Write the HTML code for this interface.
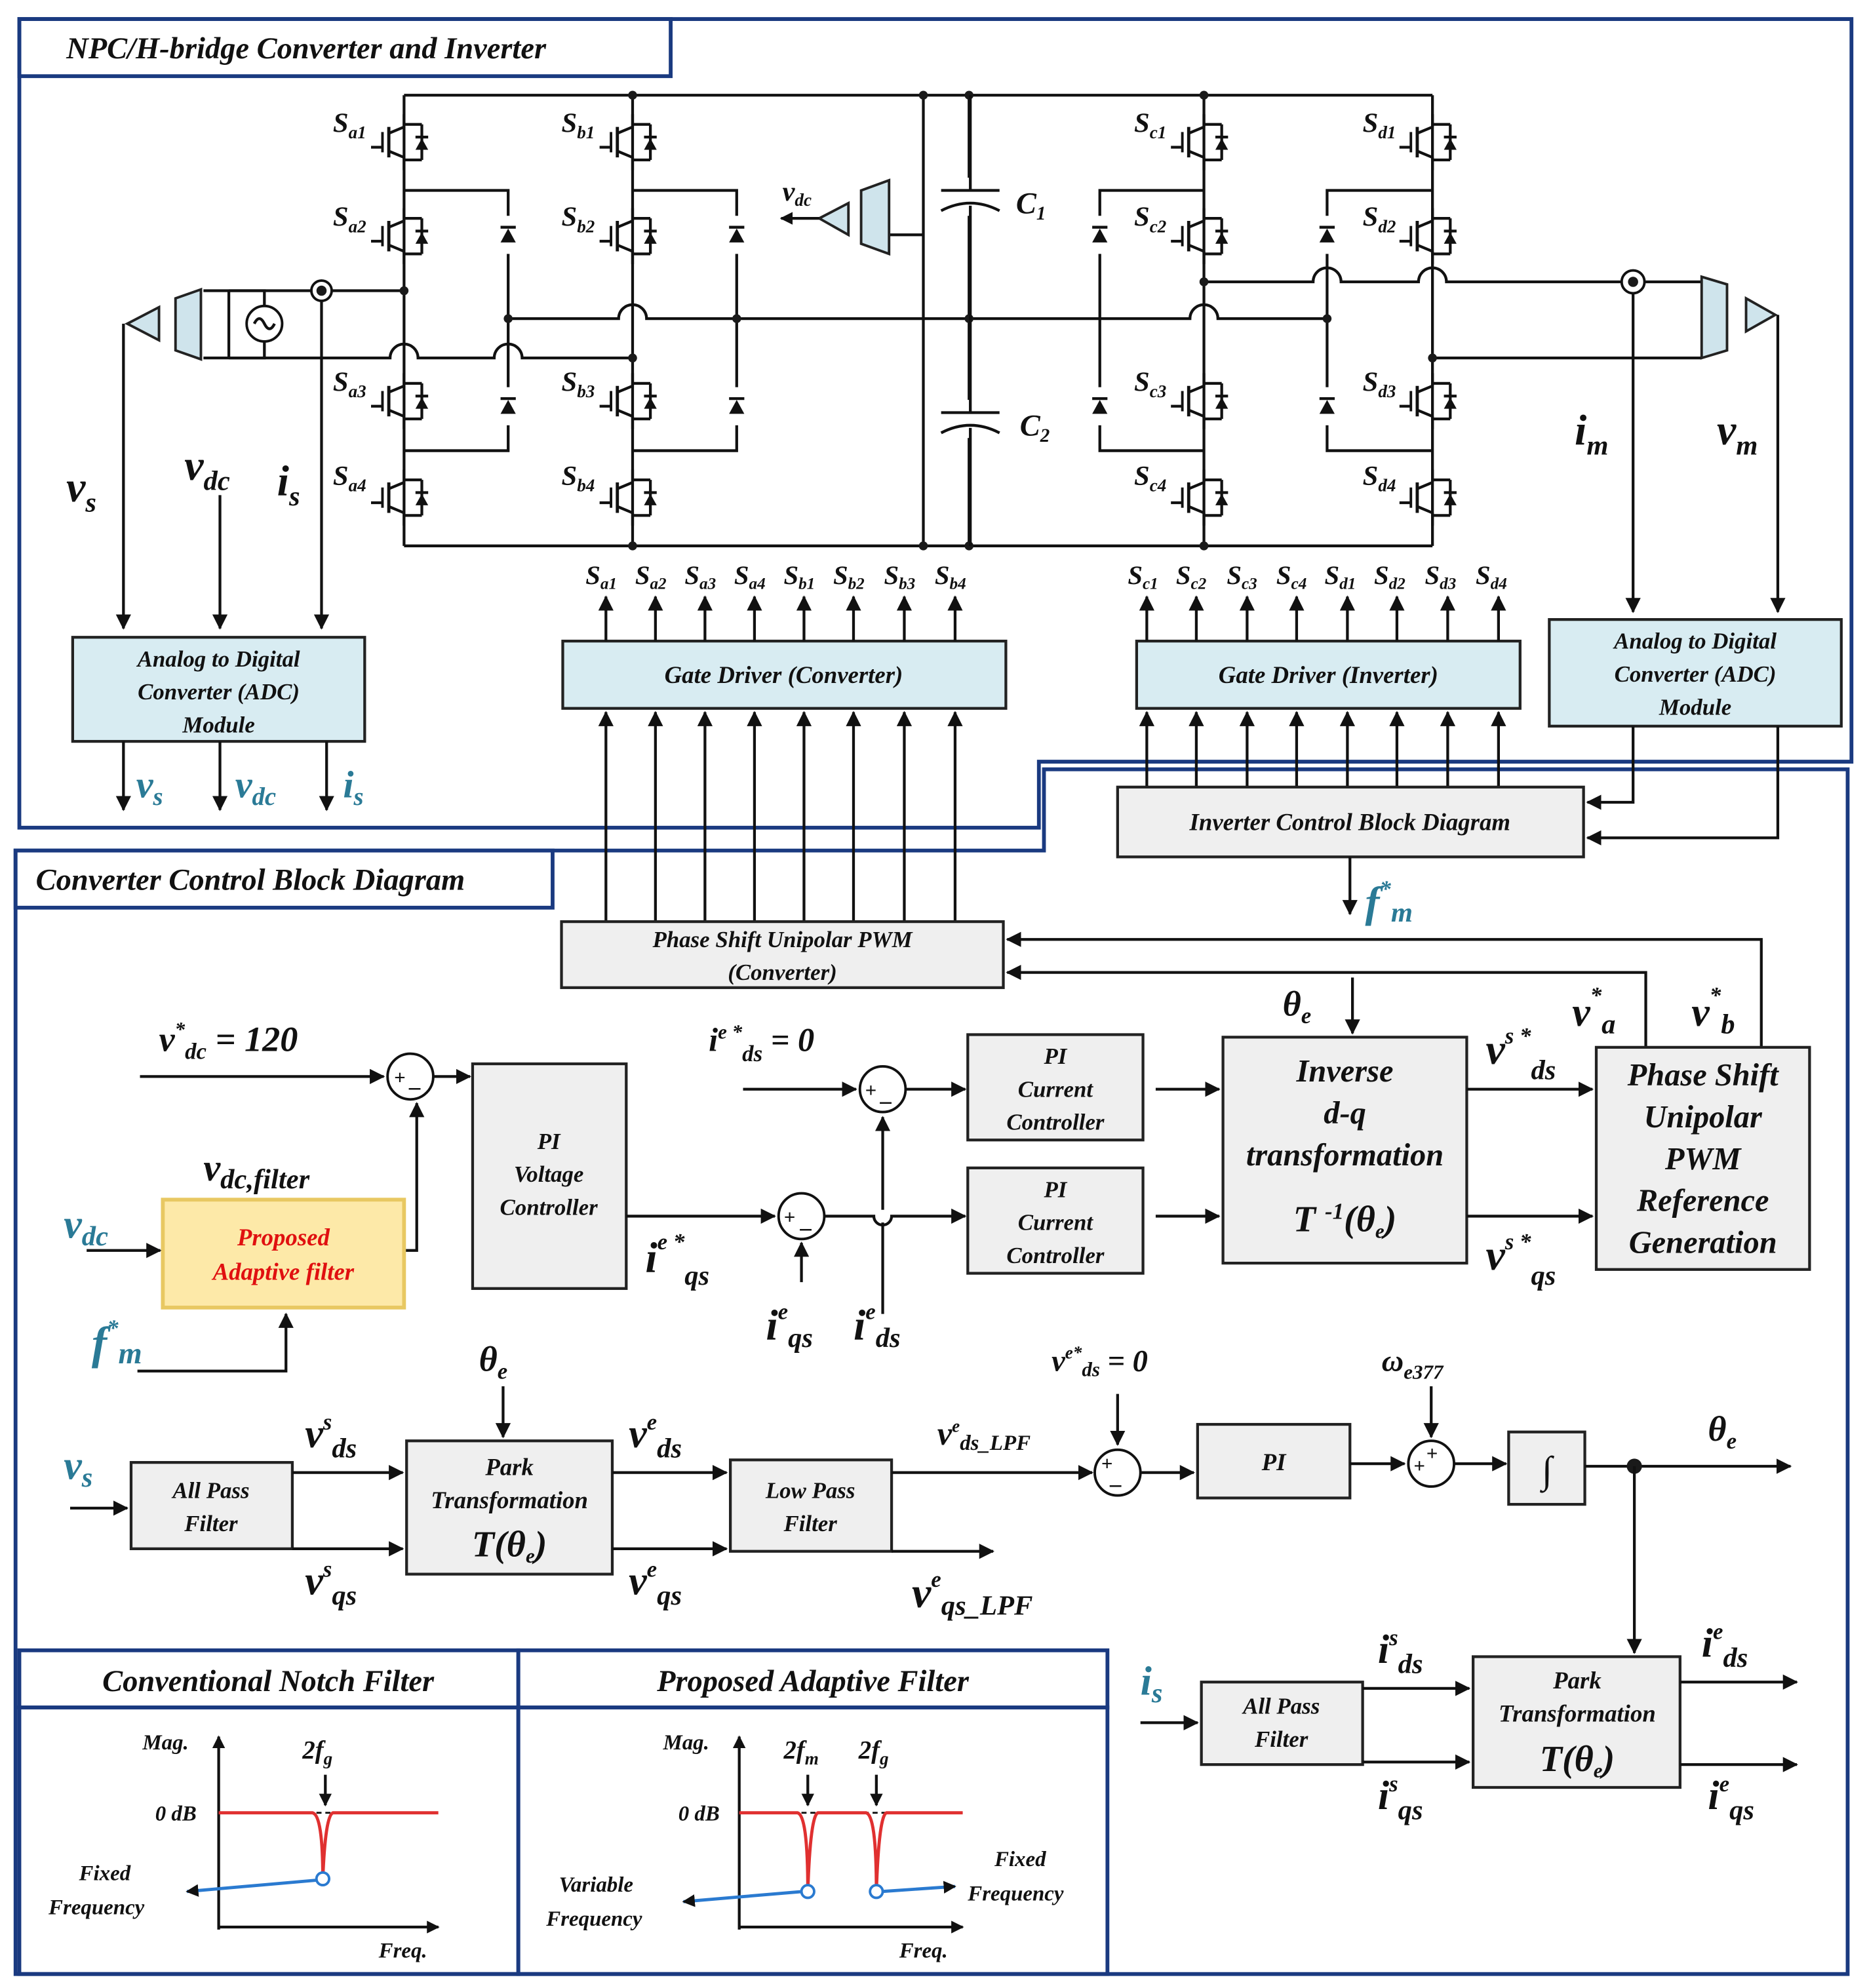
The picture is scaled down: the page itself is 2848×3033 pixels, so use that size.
<!DOCTYPE html>
<html><head><meta charset="utf-8"><style>
html,body{margin:0;padding:0;background:#fff}
svg{display:block}
text{font-family:"Liberation Serif",serif;font-style:italic;font-weight:bold;fill:#111}
.b{fill:#1a1a1a}
.t{fill:#2a7a96}
.ln{stroke:#111;stroke-width:2.2;fill:none}
.fr{stroke:#1a3a80;stroke-width:3;fill:none}
.box{fill:#efefef;stroke:#222;stroke-width:2.2}
.bl{fill:#d8ecf2;stroke:#222;stroke-width:2.2}
</style></head><body>
<svg width="2848" height="3033" viewBox="0 0 1470 1566" xmlns="http://www.w3.org/2000/svg">
<defs>
<marker id="a" markerWidth="10" markerHeight="10" refX="9" refY="5" orient="auto" markerUnits="userSpaceOnUse"><path d="M0,0 L10,5 L0,10 z" fill="#111"/></marker>
<marker id="ab" markerWidth="12" markerHeight="12" refX="11" refY="6" orient="auto" markerUnits="userSpaceOnUse"><path d="M0,0 L12,6 L0,12 z" fill="#111"/></marker>
<g id="sw">
<line x1="0" y1="-22" x2="0" y2="-12" class="ln"/>
<line x1="-12" y1="-12" x2="-12" y2="12" stroke="#111" stroke-width="2.5"/>
<line x1="-12" y1="-7" x2="0" y2="-12" class="ln"/><line x1="-12" y1="7" x2="0" y2="12" class="ln"/>
<line x1="0" y1="12" x2="0" y2="22" class="ln"/>
<line x1="-17" y1="-8" x2="-17" y2="8" stroke="#111" stroke-width="2"/>
<line x1="-17" y1="4" x2="-26" y2="4" class="ln"/>
<line x1="0" y1="-14" x2="14" y2="-14" class="ln"/><line x1="14" y1="-14" x2="14" y2="14" class="ln"/><line x1="0" y1="14" x2="14" y2="14" class="ln"/>
<path d="M9,6 L19,6 L14,-3 z" fill="#111"/><line x1="9" y1="-4" x2="19" y2="-4" class="ln"/>
</g>
<g id="di"><path d="M-6,6 L6,6 L0,-5 z" fill="#111"/><line x1="-6" y1="-6" x2="6" y2="-6" class="ln"/></g>
</defs>

<path class="fr" d="M15,15 H1458 V600 H818 V652 H15 Z"/>
<path class="fr" d="M12,670 H822 V606 H1455 V1555 H12 Z"/>
<rect x="15" y="15" width="513" height="45" fill="#fff" class="fr"/>
<text x="52" y="46" font-size="24" font-weight="normal">NPC/H-bridge Converter and Inverter</text>
<rect x="12" y="670" width="423" height="45" fill="#fff" class="fr"/>
<text x="28" y="701" font-size="24">Converter Control Block Diagram</text>

<line x1="318" y1="75" x2="1128" y2="75" class="ln"/>
<line x1="318" y1="430" x2="1128" y2="430" class="ln"/>
<g class="ln">
<line x1="318" y1="75" x2="318" y2="430"/><line x1="498" y1="75" x2="498" y2="430"/>
<line x1="948" y1="75" x2="948" y2="430"/><line x1="1128" y1="75" x2="1128" y2="430"/>
<line x1="727" y1="75" x2="727" y2="430"/><line x1="763" y1="75" x2="763" y2="430"/>
<path d="M318,150 H400 V355 H318"/><path d="M498,150 H580 V355 H498"/>
<path d="M948,150 H866 V355 H948"/><path d="M1128,150 H1045 V355 H1128"/>
<path d="M400,251 H487 a11,11 0 0 1 22,0 H937 a11,11 0 0 1 22,0 H1045"/>
<path d="M160,229 H318"/><path d="M160,282 H307 a11,11 0 0 1 22,0 H389 a11,11 0 0 1 22,0 H498"/>
<path d="M948,222 H1034 a11,11 0 0 1 22,0 H1117 a11,11 0 0 1 22,0 H1340"/>
<path d="M1128,282 H1340"/>
</g>
<circle cx="318" cy="229" r="3.5" class="b"/><circle cx="498" cy="282" r="3.5" class="b"/>
<circle cx="400" cy="251" r="3.5" class="b"/><circle cx="580" cy="251" r="3.5" class="b"/>
<circle cx="763" cy="251" r="3.5" class="b"/><circle cx="1045" cy="251" r="3.5" class="b"/>
<circle cx="498" cy="75" r="3.5" class="b"/><circle cx="727" cy="75" r="3.5" class="b"/><circle cx="763" cy="75" r="3.5" class="b"/><circle cx="948" cy="75" r="3.5" class="b"/>
<circle cx="498" cy="430" r="3.5" class="b"/><circle cx="727" cy="430" r="3.5" class="b"/><circle cx="763" cy="430" r="3.5" class="b"/><circle cx="948" cy="430" r="3.5" class="b"/>
<circle cx="948" cy="222" r="3.5" class="b"/><circle cx="1128" cy="282" r="3.5" class="b"/>
<g>
<use href="#sw" x="318" y="112"/><use href="#sw" x="318" y="186"/><use href="#sw" x="318" y="316"/><use href="#sw" x="318" y="392"/>
<use href="#sw" x="498" y="112"/><use href="#sw" x="498" y="186"/><use href="#sw" x="498" y="316"/><use href="#sw" x="498" y="392"/>
<use href="#sw" x="948" y="112"/><use href="#sw" x="948" y="186"/><use href="#sw" x="948" y="316"/><use href="#sw" x="948" y="392"/>
<use href="#sw" x="1128" y="112"/><use href="#sw" x="1128" y="186"/><use href="#sw" x="1128" y="316"/><use href="#sw" x="1128" y="392"/>
</g>
<rect x="395" y="170" width="10" height="30" fill="#fff"/><use href="#di" x="400" y="185"/>
<rect x="395" y="305" width="10" height="30" fill="#fff"/><use href="#di" x="400" y="320"/>
<rect x="575" y="170" width="10" height="30" fill="#fff"/><use href="#di" x="580" y="185"/>
<rect x="575" y="305" width="10" height="30" fill="#fff"/><use href="#di" x="580" y="320"/>
<rect x="861" y="170" width="10" height="30" fill="#fff"/><use href="#di" x="866" y="185"/>
<rect x="861" y="305" width="10" height="30" fill="#fff"/><use href="#di" x="866" y="320"/>
<rect x="1040" y="170" width="10" height="30" fill="#fff"/><use href="#di" x="1045" y="185"/>
<rect x="1040" y="305" width="10" height="30" fill="#fff"/><use href="#di" x="1045" y="320"/>
<g font-size="22">
<text x="262" y="104">S<tspan font-size="14" dy="5">a1</tspan></text><text x="262" y="178">S<tspan font-size="14" dy="5">a2</tspan></text>
<text x="262" y="308">S<tspan font-size="14" dy="5">a3</tspan></text><text x="262" y="382">S<tspan font-size="14" dy="5">a4</tspan></text>
<text x="442" y="104">S<tspan font-size="14" dy="5">b1</tspan></text><text x="442" y="178">S<tspan font-size="14" dy="5">b2</tspan></text>
<text x="442" y="308">S<tspan font-size="14" dy="5">b3</tspan></text><text x="442" y="382">S<tspan font-size="14" dy="5">b4</tspan></text>
<text x="893" y="104">S<tspan font-size="14" dy="5">c1</tspan></text><text x="893" y="178">S<tspan font-size="14" dy="5">c2</tspan></text>
<text x="893" y="308">S<tspan font-size="14" dy="5">c3</tspan></text><text x="893" y="382">S<tspan font-size="14" dy="5">c4</tspan></text>
<text x="1073" y="104">S<tspan font-size="14" dy="5">d1</tspan></text><text x="1073" y="178">S<tspan font-size="14" dy="5">d2</tspan></text>
<text x="1073" y="308">S<tspan font-size="14" dy="5">d3</tspan></text><text x="1073" y="382">S<tspan font-size="14" dy="5">d4</tspan></text>
</g>
<rect x="735" y="140" width="60" height="30" fill="#fff"/><rect x="735" y="315" width="60" height="30" fill="#fff"/>
<g class="ln"><line x1="741" y1="150" x2="787" y2="150"/><path d="M741,166 Q764,154 787,166"/>
<line x1="741" y1="325" x2="787" y2="325"/><path d="M741,341 Q764,329 787,341"/>
<line x1="764" y1="150" x2="764" y2="75"/><line x1="764" y1="162" x2="764" y2="325"/><line x1="764" y1="337" x2="764" y2="430"/></g>
<text x="800" y="168" font-size="24">C<tspan font-size="15" dy="5">1</tspan></text>
<text x="803" y="343" font-size="24">C<tspan font-size="15" dy="5">2</tspan></text>
<line x1="700" y1="185" x2="727" y2="185" class="ln"/>
<path d="M678,150 L700,142 L700,200 L678,192 Z" fill="#cfe4ec" stroke="#222" stroke-width="2"/>
<path d="M668,160 L668,185 L645,172 Z" fill="#cfe4ec" stroke="#222" stroke-width="2"/>
<line x1="645" y1="172" x2="615" y2="172" class="ln" marker-end="url(#a)"/>
<text x="616" y="158" font-size="22">v<tspan font-size="14" dy="4">dc</tspan></text>
<circle cx="208" cy="255" r="14" fill="#fff" stroke="#111" stroke-width="2"/>
<path d="M200,255 q4,-8 8,0 q4,8 8,0" class="ln"/>
<path d="M180,229 V282 M180,229 H208 V241 M208,269 V282 H180" class="ln"/>
<path d="M138,235 L158,228 L158,283 L138,276 Z" fill="#cfe4ec" stroke="#222" stroke-width="2"/>
<path d="M125,242 L125,268 L100,255 Z" fill="#cfe4ec" stroke="#222" stroke-width="2"/>
<circle cx="253" cy="229" r="8" fill="#fff" stroke="#111" stroke-width="2"/><circle cx="253" cy="229" r="4" class="b"/>
<g class="ln">
<line x1="97" y1="255" x2="97" y2="495" marker-end="url(#ab)"/>
<line x1="173" y1="390" x2="173" y2="495" marker-end="url(#ab)"/>
<line x1="253" y1="237" x2="253" y2="495" marker-end="url(#ab)"/>
</g>
<text x="52" y="395" font-size="34">v<tspan font-size="22" dy="8">s</tspan></text>
<text x="145" y="378" font-size="34">v<tspan font-size="22" dy="8">dc</tspan></text>
<text x="218" y="390" font-size="34">i<tspan font-size="22" dy="8">s</tspan></text>
<rect x="57" y="502" width="230" height="82" class="bl"/>
<text x="172" y="525" font-size="18" text-anchor="middle">Analog to Digital</text>
<text x="172" y="551" font-size="18" text-anchor="middle">Converter (ADC)</text>
<text x="172" y="577" font-size="18" text-anchor="middle">Module</text>
<g class="ln"><line x1="97" y1="584" x2="97" y2="638" marker-end="url(#ab)"/><line x1="173" y1="584" x2="173" y2="638" marker-end="url(#ab)"/><line x1="257" y1="584" x2="257" y2="638" marker-end="url(#ab)"/></g>
<text x="107" y="628" font-size="30" class="t">v<tspan font-size="20" dy="6">s</tspan></text>
<text x="185" y="628" font-size="30" class="t">v<tspan font-size="20" dy="6">dc</tspan></text>
<text x="270" y="628" font-size="30" class="t">i<tspan font-size="20" dy="6">s</tspan></text>
<circle cx="1286" cy="222" r="9" fill="#fff" stroke="#111" stroke-width="2"/><circle cx="1286" cy="222" r="4" class="b"/>
<path d="M1340,218 L1360,224 L1360,276 L1340,282 Z" fill="#cfe4ec" stroke="#222" stroke-width="2"/>
<path d="M1375,235 L1375,261 L1398,248 Z" fill="#cfe4ec" stroke="#222" stroke-width="2"/>
<g class="ln"><line x1="1286" y1="231" x2="1286" y2="482" marker-end="url(#ab)"/><line x1="1400" y1="248" x2="1400" y2="482" marker-end="url(#ab)"/></g>
<text x="1240" y="350" font-size="34">i<tspan font-size="22" dy="8">m</tspan></text>
<text x="1352" y="350" font-size="34">v<tspan font-size="22" dy="8">m</tspan></text>
<rect x="1220" y="488" width="230" height="84" class="bl"/>
<text x="1335" y="511" font-size="18" text-anchor="middle">Analog to Digital</text>
<text x="1335" y="537" font-size="18" text-anchor="middle">Converter (ADC)</text>
<text x="1335" y="563" font-size="18" text-anchor="middle">Module</text>
<g class="ln"><path d="M1286,572 V632 H1250" marker-end="url(#ab)"/><path d="M1400,572 V660 H1250" marker-end="url(#ab)"/></g>
<rect x="443" y="505" width="349" height="53" class="bl"/>
<text x="617" y="538" font-size="19" text-anchor="middle">Gate Driver (Converter)</text>
<rect x="895" y="505" width="302" height="53" class="bl"/>
<text x="1046" y="538" font-size="19" text-anchor="middle">Gate Driver (Inverter)</text>
<g class="ln">
<line x1="477" y1="505" x2="477" y2="470" marker-end="url(#ab)"/><line x1="516" y1="505" x2="516" y2="470" marker-end="url(#ab)"/>
<line x1="555" y1="505" x2="555" y2="470" marker-end="url(#ab)"/><line x1="594" y1="505" x2="594" y2="470" marker-end="url(#ab)"/>
<line x1="633" y1="505" x2="633" y2="470" marker-end="url(#ab)"/><line x1="672" y1="505" x2="672" y2="470" marker-end="url(#ab)"/>
<line x1="712" y1="505" x2="712" y2="470" marker-end="url(#ab)"/><line x1="752" y1="505" x2="752" y2="470" marker-end="url(#ab)"/>
<line x1="903" y1="505" x2="903" y2="470" marker-end="url(#ab)"/><line x1="942" y1="505" x2="942" y2="470" marker-end="url(#ab)"/>
<line x1="982" y1="505" x2="982" y2="470" marker-end="url(#ab)"/><line x1="1021" y1="505" x2="1021" y2="470" marker-end="url(#ab)"/>
<line x1="1061" y1="505" x2="1061" y2="470" marker-end="url(#ab)"/><line x1="1100" y1="505" x2="1100" y2="470" marker-end="url(#ab)"/>
<line x1="1140" y1="505" x2="1140" y2="470" marker-end="url(#ab)"/><line x1="1180" y1="505" x2="1180" y2="470" marker-end="url(#ab)"/>
<line x1="477" y1="726" x2="477" y2="561" marker-end="url(#ab)"/><line x1="516" y1="726" x2="516" y2="561" marker-end="url(#ab)"/>
<line x1="555" y1="726" x2="555" y2="561" marker-end="url(#ab)"/><line x1="594" y1="726" x2="594" y2="561" marker-end="url(#ab)"/>
<line x1="633" y1="726" x2="633" y2="561" marker-end="url(#ab)"/><line x1="672" y1="726" x2="672" y2="561" marker-end="url(#ab)"/>
<line x1="712" y1="726" x2="712" y2="561" marker-end="url(#ab)"/><line x1="752" y1="726" x2="752" y2="561" marker-end="url(#ab)"/>
<line x1="903" y1="620" x2="903" y2="561" marker-end="url(#ab)"/><line x1="942" y1="620" x2="942" y2="561" marker-end="url(#ab)"/>
<line x1="982" y1="620" x2="982" y2="561" marker-end="url(#ab)"/><line x1="1021" y1="620" x2="1021" y2="561" marker-end="url(#ab)"/>
<line x1="1061" y1="620" x2="1061" y2="561" marker-end="url(#ab)"/><line x1="1100" y1="620" x2="1100" y2="561" marker-end="url(#ab)"/>
<line x1="1140" y1="620" x2="1140" y2="561" marker-end="url(#ab)"/><line x1="1180" y1="620" x2="1180" y2="561" marker-end="url(#ab)"/>
</g>
<g font-size="21">
<text x="461" y="460">S<tspan font-size="13" dy="4">a1</tspan></text><text x="500" y="460">S<tspan font-size="13" dy="4">a2</tspan></text>
<text x="539" y="460">S<tspan font-size="13" dy="4">a3</tspan></text><text x="578" y="460">S<tspan font-size="13" dy="4">a4</tspan></text>
<text x="617" y="460">S<tspan font-size="13" dy="4">b1</tspan></text><text x="656" y="460">S<tspan font-size="13" dy="4">b2</tspan></text>
<text x="696" y="460">S<tspan font-size="13" dy="4">b3</tspan></text><text x="736" y="460">S<tspan font-size="13" dy="4">b4</tspan></text>
<text x="888" y="460">S<tspan font-size="13" dy="4">c1</tspan></text><text x="926" y="460">S<tspan font-size="13" dy="4">c2</tspan></text>
<text x="966" y="460">S<tspan font-size="13" dy="4">c3</tspan></text><text x="1005" y="460">S<tspan font-size="13" dy="4">c4</tspan></text>
<text x="1043" y="460">S<tspan font-size="13" dy="4">d1</tspan></text><text x="1082" y="460">S<tspan font-size="13" dy="4">d2</tspan></text>
<text x="1122" y="460">S<tspan font-size="13" dy="4">d3</tspan></text><text x="1162" y="460">S<tspan font-size="13" dy="4">d4</tspan></text>
</g>
<rect x="880" y="620" width="367" height="55" class="box"/>
<text x="1063" y="654" font-size="19" text-anchor="middle">Inverter Control Block Diagram</text>
<line x1="1063" y1="675" x2="1063" y2="720" class="ln" marker-end="url(#ab)"/>
<text x="1075" y="722" font-size="34" class="t">f<tspan font-size="18" dy="-16">*</tspan><tspan font-size="22" dy="20">m</tspan></text>

<rect x="442" y="726" width="348" height="52" class="box"/>
<text x="616" y="746" font-size="18" text-anchor="middle">Phase Shift Unipolar PWM</text>
<text x="616" y="772" font-size="18" text-anchor="middle">(Converter)</text>
<g class="ln"><path d="M1387,825 V740 H793" marker-end="url(#ab)"/><path d="M1296,825 V766 H793" marker-end="url(#ab)"/></g>

<text x="125" y="828" font-size="28">v<tspan font-size="16" dy="-12">*</tspan><tspan font-size="18" dy="18">dc</tspan><tspan dy="-6"> = 120</tspan></text>
<line x1="110" y1="848" x2="302" y2="848" class="ln" marker-end="url(#ab)"/>
<circle cx="323" cy="848" r="18" fill="#fff" stroke="#111" stroke-width="2"/>
<text x="310" y="854" font-size="16">+</text><text x="322" y="862" font-size="18">–</text>
<line x1="341" y1="848" x2="370" y2="848" class="ln" marker-end="url(#ab)"/>
<path d="M318,985 H328 V869" class="ln" marker-end="url(#ab)"/>
<text x="160" y="930" font-size="30">v<tspan font-size="22" dy="6">dc,filter</tspan></text>
<rect x="128" y="945" width="190" height="85" fill="#fde9a8" stroke="#e8c862" stroke-width="3"/>
<text x="223" y="981" font-size="19" text-anchor="middle" style="fill:#e01010">Proposed</text>
<text x="223" y="1008" font-size="19" text-anchor="middle" style="fill:#e01010">Adaptive filter</text>
<text x="50" y="975" font-size="32" class="t">v<tspan font-size="22" dy="6">dc</tspan></text>
<line x1="68" y1="985" x2="126" y2="985" class="ln" marker-end="url(#ab)"/>
<text x="72" y="1070" font-size="36" class="t">f<tspan font-size="18" dy="-18">*</tspan><tspan font-size="24" dy="22">m</tspan></text>
<path d="M108,1080 H225 V1035" class="ln" marker-end="url(#ab)"/>
<rect x="372" y="838" width="121" height="177" class="box"/>
<text x="432" y="905" font-size="18" text-anchor="middle">PI</text>
<text x="432" y="931" font-size="18" text-anchor="middle">Voltage</text>
<text x="432" y="957" font-size="18" text-anchor="middle">Controller</text>
<line x1="493" y1="958" x2="610" y2="958" class="ln" marker-end="url(#ab)"/>
<text x="508" y="1002" font-size="34">i<tspan font-size="18" dy="-18">e *</tspan><tspan font-size="22" dy="28">qs</tspan></text>
<circle cx="631" cy="958" r="18" fill="#fff" stroke="#111" stroke-width="2"/>
<text x="617" y="964" font-size="16">+</text><text x="630" y="973" font-size="18">–</text>
<line x1="631" y1="1010" x2="631" y2="979" class="ln" marker-end="url(#ab)"/>
<text x="603" y="1055" font-size="34">i<tspan font-size="18" dy="-16">e</tspan><tspan font-size="22" dy="22">qs</tspan></text>
<path d="M649,958 H688 a7,7 0 0 0 14,0 H760" class="ln" marker-end="url(#ab)"/>
<path d="M695,1035 V963 M695,953 V880" class="ln" marker-end="url(#ab)"/>
<text x="672" y="1055" font-size="34">i<tspan font-size="18" dy="-16">e</tspan><tspan font-size="22" dy="22">ds</tspan></text>
<text x="558" y="828" font-size="26">i<tspan font-size="16" dy="-10">e *</tspan><tspan font-size="18" dy="18">ds</tspan><tspan dy="-8"> = 0</tspan></text>
<line x1="585" y1="858" x2="674" y2="858" class="ln" marker-end="url(#ab)"/>
<circle cx="695" cy="858" r="18" fill="#fff" stroke="#111" stroke-width="2"/>
<text x="681" y="864" font-size="16">+</text><text x="693" y="873" font-size="18">–</text>
<line x1="713" y1="858" x2="760" y2="858" class="ln" marker-end="url(#ab)"/>
<rect x="762" y="815" width="138" height="83" class="box"/>
<text x="831" y="838" font-size="18" text-anchor="middle">PI</text><text x="831" y="864" font-size="18" text-anchor="middle">Current</text><text x="831" y="890" font-size="18" text-anchor="middle">Controller</text>
<rect x="762" y="920" width="138" height="83" class="box"/>
<text x="831" y="943" font-size="18" text-anchor="middle">PI</text><text x="831" y="969" font-size="18" text-anchor="middle">Current</text><text x="831" y="995" font-size="18" text-anchor="middle">Controller</text>
<line x1="910" y1="858" x2="960" y2="858" class="ln" marker-end="url(#ab)"/>
<line x1="910" y1="958" x2="960" y2="958" class="ln" marker-end="url(#ab)"/>
<rect x="963" y="817" width="192" height="178" class="box"/>
<text x="1059" y="852" font-size="25" text-anchor="middle" font-weight="normal">Inverse</text>
<text x="1059" y="885" font-size="25" text-anchor="middle" font-weight="normal">d-q</text>
<text x="1059" y="918" font-size="25" text-anchor="middle" font-weight="normal">transformation</text>
<text x="1059" y="970" font-size="29" text-anchor="middle" font-weight="normal">T <tspan font-size="18" dy="-10">-1</tspan><tspan dy="10">(θ</tspan><tspan font-size="16" dy="5">e</tspan><tspan dy="-5">)</tspan></text>
<text x="1010" y="800" font-size="28">θ<tspan font-size="18" dy="6">e</tspan></text>
<line x1="1065" y1="770" x2="1065" y2="814" class="ln" marker-end="url(#ab)"/>
<line x1="1155" y1="858" x2="1254" y2="858" class="ln" marker-end="url(#ab)"/>
<line x1="1155" y1="958" x2="1254" y2="958" class="ln" marker-end="url(#ab)"/>
<text x="1170" y="838" font-size="34">v<tspan font-size="18" dy="-16">s *</tspan><tspan font-size="22" dy="28">ds</tspan></text>
<text x="1170" y="1000" font-size="34">v<tspan font-size="18" dy="-16">s *</tspan><tspan font-size="22" dy="28">qs</tspan></text>
<text x="1238" y="808" font-size="32">v<tspan font-size="18" dy="-18">*</tspan><tspan font-size="22" dy="24">a</tspan></text>
<text x="1332" y="808" font-size="32">v<tspan font-size="18" dy="-18">*</tspan><tspan font-size="22" dy="24">b</tspan></text>
<rect x="1257" y="825" width="168" height="175" class="box"/>
<g font-size="25" text-anchor="middle">
<text x="1341" y="855" font-weight="normal">Phase Shift</text><text x="1341" y="888" font-weight="normal">Unipolar</text><text x="1341" y="921" font-weight="normal">PWM</text><text x="1341" y="954" font-weight="normal">Reference</text><text x="1341" y="987" font-weight="normal">Generation</text></g>

<text x="50" y="1165" font-size="32" class="t">v<tspan font-size="22" dy="6">s</tspan></text>
<line x1="55" y1="1188" x2="100" y2="1188" class="ln" marker-end="url(#ab)"/>
<rect x="103" y="1152" width="127" height="68" class="box"/>
<text x="166" y="1180" font-size="18" text-anchor="middle">All Pass</text><text x="166" y="1206" font-size="18" text-anchor="middle">Filter</text>
<line x1="230" y1="1160" x2="317" y2="1160" class="ln" marker-end="url(#ab)"/>
<line x1="230" y1="1220" x2="317" y2="1220" class="ln" marker-end="url(#ab)"/>
<text x="240" y="1140" font-size="32">v<tspan font-size="18" dy="-14">s</tspan><tspan font-size="22" dy="22">ds</tspan></text>
<text x="240" y="1256" font-size="32">v<tspan font-size="18" dy="-14">s</tspan><tspan font-size="22" dy="22">qs</tspan></text>
<text x="377" y="1080" font-size="28">θ<tspan font-size="18" dy="6">e</tspan></text>
<line x1="396" y1="1092" x2="396" y2="1132" class="ln" marker-end="url(#ab)"/>
<rect x="320" y="1135" width="162" height="105" class="box"/>
<text x="401" y="1162" font-size="19" text-anchor="middle">Park</text><text x="401" y="1188" font-size="19" text-anchor="middle">Transformation</text>
<text x="401" y="1226" font-size="29" text-anchor="middle" font-weight="normal">T(θ<tspan font-size="16" dy="5">e</tspan><tspan dy="-5">)</tspan></text>
<line x1="482" y1="1160" x2="572" y2="1160" class="ln" marker-end="url(#ab)"/>
<line x1="482" y1="1220" x2="572" y2="1220" class="ln" marker-end="url(#ab)"/>
<text x="495" y="1140" font-size="32">v<tspan font-size="18" dy="-14">e</tspan><tspan font-size="22" dy="22">ds</tspan></text>
<text x="495" y="1256" font-size="32">v<tspan font-size="18" dy="-14">e</tspan><tspan font-size="22" dy="22">qs</tspan></text>
<rect x="575" y="1150" width="127" height="72" class="box"/>
<text x="638" y="1180" font-size="18" text-anchor="middle">Low Pass</text><text x="638" y="1206" font-size="18" text-anchor="middle">Filter</text>
<line x1="702" y1="1160" x2="860" y2="1160" class="ln" marker-end="url(#ab)"/>
<line x1="702" y1="1222" x2="782" y2="1222" class="ln" marker-end="url(#ab)"/>
<text x="738" y="1138" font-size="26">v<tspan font-size="14" dy="-10">e</tspan><tspan font-size="17" dy="14">ds_LPF</tspan></text>
<text x="718" y="1266" font-size="34">v<tspan font-size="18" dy="-16">e</tspan><tspan font-size="22" dy="22">qs_LPF</tspan></text>
<text x="828" y="1080" font-size="24">v<tspan font-size="14" dy="-10">e*</tspan><tspan font-size="16" dy="14">ds</tspan><tspan dy="-4"> = 0</tspan></text>
<line x1="880" y1="1098" x2="880" y2="1138" class="ln" marker-end="url(#ab)"/>
<circle cx="880" cy="1160" r="18" fill="#fff" stroke="#111" stroke-width="2"/>
<text x="867" y="1158" font-size="16">+</text><text x="874" y="1175" font-size="18">–</text>
<line x1="898" y1="1160" x2="940" y2="1160" class="ln" marker-end="url(#ab)"/>
<rect x="943" y="1122" width="120" height="58" class="box"/>
<text x="1003" y="1158" font-size="19" text-anchor="middle">PI</text>
<line x1="1063" y1="1153" x2="1106" y2="1153" class="ln" marker-end="url(#ab)"/>
<text x="1088" y="1080" font-size="24">ω<tspan font-size="16" dy="6">e377</tspan></text>
<line x1="1127" y1="1092" x2="1127" y2="1132" class="ln" marker-end="url(#ab)"/>
<circle cx="1127" cy="1153" r="18" fill="#fff" stroke="#111" stroke-width="2"/>
<text x="1113" y="1160" font-size="16">+</text><text x="1123" y="1150" font-size="16">+</text>
<line x1="1145" y1="1153" x2="1186" y2="1153" class="ln" marker-end="url(#ab)"/>
<rect x="1188" y="1128" width="60" height="57" class="box"/>
<text x="1218" y="1168" font-size="30" text-anchor="middle" font-weight="normal">∫</text>
<line x1="1248" y1="1155" x2="1410" y2="1155" class="ln" marker-end="url(#ab)"/>
<circle cx="1287" cy="1155" r="6" class="b"/>
<text x="1345" y="1135" font-size="28">θ<tspan font-size="18" dy="6">e</tspan></text>
<line x1="1287" y1="1155" x2="1287" y2="1302" class="ln" marker-end="url(#ab)"/>

<text x="898" y="1335" font-size="32" class="t">i<tspan font-size="22" dy="6">s</tspan></text>
<line x1="898" y1="1357" x2="943" y2="1357" class="ln" marker-end="url(#ab)"/>
<rect x="946" y="1325" width="127" height="65" class="box"/>
<text x="1009" y="1350" font-size="18" text-anchor="middle">All Pass</text><text x="1009" y="1376" font-size="18" text-anchor="middle">Filter</text>
<line x1="1073" y1="1330" x2="1157" y2="1330" class="ln" marker-end="url(#ab)"/>
<line x1="1073" y1="1388" x2="1157" y2="1388" class="ln" marker-end="url(#ab)"/>
<text x="1085" y="1310" font-size="32">i<tspan font-size="18" dy="-14">s</tspan><tspan font-size="22" dy="22">ds</tspan></text>
<text x="1085" y="1425" font-size="32">i<tspan font-size="18" dy="-14">s</tspan><tspan font-size="22" dy="22">qs</tspan></text>
<rect x="1160" y="1305" width="163" height="103" class="box"/>
<text x="1242" y="1330" font-size="19" text-anchor="middle">Park</text><text x="1242" y="1356" font-size="19" text-anchor="middle">Transformation</text>
<text x="1242" y="1395" font-size="29" text-anchor="middle" font-weight="normal">T(θ<tspan font-size="16" dy="5">e</tspan><tspan dy="-5">)</tspan></text>
<line x1="1323" y1="1325" x2="1415" y2="1325" class="ln" marker-end="url(#ab)"/>
<line x1="1323" y1="1390" x2="1415" y2="1390" class="ln" marker-end="url(#ab)"/>
<text x="1340" y="1305" font-size="32">i<tspan font-size="18" dy="-14">e</tspan><tspan font-size="22" dy="22">ds</tspan></text>
<text x="1345" y="1425" font-size="32">i<tspan font-size="18" dy="-14">e</tspan><tspan font-size="22" dy="22">qs</tspan></text>

<rect x="15" y="1300" width="393" height="45" fill="#fff" class="fr"/>
<rect x="408" y="1300" width="464" height="45" fill="#fff" class="fr"/>
<rect x="15" y="1345" width="393" height="210" fill="#fff" class="fr"/>
<rect x="408" y="1345" width="464" height="210" fill="#fff" class="fr"/>
<text x="211" y="1332" font-size="24" text-anchor="middle" font-weight="normal">Conventional Notch Filter</text>
<text x="640" y="1332" font-size="24" text-anchor="middle" font-weight="normal">Proposed Adaptive Filter</text>
<g class="ln" stroke-width="1.6"><line x1="172" y1="1520" x2="172" y2="1368" marker-end="url(#a)"/><line x1="172" y1="1518" x2="345" y2="1518" marker-end="url(#a)"/></g>
<line x1="172" y1="1428" x2="345" y2="1428" stroke="#111" stroke-dasharray="4,3" stroke-width="1.5"/>
<path d="M172,1428 H246 Q254,1430 254,1480 Q256,1430 262,1428 H345" stroke="#e03030" stroke-width="2.5" fill="none"/>
<circle cx="254" cy="1480" r="5" fill="#fff" stroke="#2a7ad0" stroke-width="2"/>
<line x1="250" y1="1481" x2="147" y2="1490" stroke="#2a7ad0" stroke-width="2.5" marker-end="url(#a)"/>
<line x1="256" y1="1398" x2="256" y2="1422" class="ln" stroke-width="1.5" marker-end="url(#a)"/>
<g font-size="17">
<text x="112" y="1378">Mag.</text><text x="122" y="1434">0 dB</text>
<text x="238" y="1385" font-size="20">2f<tspan font-size="14" dy="5">g</tspan></text>
<text x="62" y="1481">Fixed</text><text x="38" y="1508">Frequency</text>
<text x="298" y="1542">Freq.</text>
</g>
<g class="ln" stroke-width="1.6"><line x1="582" y1="1520" x2="582" y2="1368" marker-end="url(#a)"/><line x1="582" y1="1518" x2="758" y2="1518" marker-end="url(#a)"/></g>
<line x1="582" y1="1428" x2="758" y2="1428" stroke="#111" stroke-dasharray="4,3" stroke-width="1.5"/>
<path d="M582,1428 H628 Q636,1430 636,1490 Q638,1430 644,1428 H682 Q690,1430 690,1490 Q692,1430 698,1428 H758" stroke="#e03030" stroke-width="2.5" fill="none"/>
<circle cx="636" cy="1490" r="5" fill="#fff" stroke="#2a7ad0" stroke-width="2"/>
<circle cx="690" cy="1490" r="5" fill="#fff" stroke="#2a7ad0" stroke-width="2"/>
<line x1="632" y1="1490" x2="538" y2="1498" stroke="#2a7ad0" stroke-width="2.5" marker-end="url(#a)"/>
<line x1="694" y1="1490" x2="752" y2="1486" stroke="#2a7ad0" stroke-width="2.5" marker-end="url(#a)"/>
<line x1="636" y1="1398" x2="636" y2="1422" class="ln" stroke-width="1.5" marker-end="url(#a)"/>
<line x1="690" y1="1398" x2="690" y2="1422" class="ln" stroke-width="1.5" marker-end="url(#a)"/>
<g font-size="17">
<text x="522" y="1378">Mag.</text><text x="534" y="1434">0 dB</text>
<text x="617" y="1385" font-size="20">2f<tspan font-size="14" dy="5">m</tspan></text>
<text x="676" y="1385" font-size="20">2f<tspan font-size="14" dy="5">g</tspan></text>
<text x="440" y="1490">Variable</text><text x="430" y="1517">Frequency</text>
<text x="783" y="1470">Fixed</text><text x="762" y="1497">Frequency</text>
<text x="708" y="1542">Freq.</text>
</g>
</svg>
</body></html>
